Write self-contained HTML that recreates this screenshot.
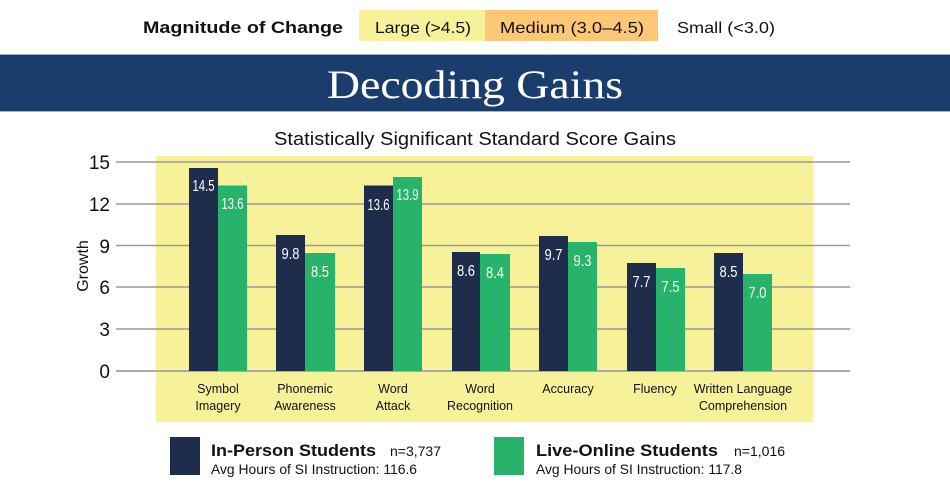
<!DOCTYPE html>
<html><head><meta charset="utf-8"><style>
body{margin:0;background:#fff;}
svg{display:block;font-family:"Liberation Sans",sans-serif;}
</style></head><body>
<svg width="950" height="488" viewBox="0 0 950 488" xmlns="http://www.w3.org/2000/svg">
<rect width="950" height="488" fill="#fff"/>
<text x="143" y="33" font-size="17" font-weight="bold" fill="#111" textLength="200" lengthAdjust="spacingAndGlyphs">Magnitude of Change</text>
<rect x="359" y="10" width="126" height="31" fill="#f7f29a"/>
<rect x="485" y="10" width="173" height="31" fill="#fec776"/>
<text x="375" y="33" font-size="16" fill="#111" textLength="96" lengthAdjust="spacingAndGlyphs">Large (&gt;4.5)</text>
<text x="500" y="33" font-size="16" fill="#111" textLength="144" lengthAdjust="spacingAndGlyphs">Medium (3.0–4.5)</text>
<text x="677" y="33" font-size="16" fill="#111" textLength="98" lengthAdjust="spacingAndGlyphs">Small (&lt;3.0)</text>
<rect x="0" y="54" width="950" height="58" fill="#1b3d6e"/>
<line x1="0" y1="54.5" x2="950" y2="54.5" stroke="#9fb3cc"/>
<line x1="0" y1="111.5" x2="950" y2="111.5" stroke="#9fb3cc"/>
<text x="475" y="98" font-size="40" fill="#fff" text-anchor="middle" font-family="Liberation Serif,serif" textLength="296" lengthAdjust="spacingAndGlyphs">Decoding Gains</text>
<text x="475" y="145" font-size="18" fill="#111" text-anchor="middle" textLength="402" lengthAdjust="spacingAndGlyphs">Statistically Significant Standard Score Gains</text>
<rect x="156" y="156" width="657" height="266" fill="#f7f29a"/>
<g stroke="#999" stroke-width="1.5">
<line x1="116" y1="162" x2="850" y2="162"/>
<line x1="116" y1="204" x2="850" y2="204"/>
<line x1="116" y1="245.5" x2="850" y2="245.5"/>
<line x1="116" y1="287" x2="850" y2="287"/>
<line x1="116" y1="329" x2="850" y2="329"/>
<line x1="116" y1="371" x2="850" y2="371" stroke="#aaa" stroke-width="2"/>
</g>
<g font-size="19" fill="#111" text-anchor="end">
<text x="110" y="169">15</text>
<text x="110" y="211">12</text>
<text x="110" y="253">9</text>
<text x="110" y="294">6</text>
<text x="110" y="336">3</text>
<text x="110" y="378">0</text>
</g>
<text transform="translate(88,266) rotate(-90)" font-size="16" fill="#111" text-anchor="middle">Growth</text>
<g font-size="12.5" fill="#111" text-anchor="middle">
<text x="218" y="393">Symbol</text><text x="218" y="410">Imagery</text>
<text x="305" y="393">Phonemic</text><text x="305" y="410">Awareness</text>
<text x="393" y="393">Word</text><text x="393" y="410">Attack</text>
<text x="480" y="393">Word</text><text x="480" y="410">Recognition</text>
<text x="568" y="393">Accuracy</text>
<text x="655" y="393">Fluency</text>
<text x="743" y="393">Written Language</text><text x="743" y="410">Comprehension</text>
</g>
<rect x="170" y="437" width="30" height="38" fill="#1f2d4d"/>
<rect x="494" y="437" width="30" height="38" fill="#27b46a"/>
<text x="211" y="456" font-size="17" font-weight="bold" fill="#111" textLength="165" lengthAdjust="spacingAndGlyphs">In-Person Students</text>
<text x="390" y="456" font-size="14" fill="#111">n=3,737</text>
<text x="211" y="474" font-size="14" fill="#111" textLength="206" lengthAdjust="spacingAndGlyphs">Avg Hours of SI Instruction: 116.6</text>
<text x="536" y="456" font-size="17" font-weight="bold" fill="#111" textLength="182" lengthAdjust="spacingAndGlyphs">Live-Online Students</text>
<text x="734" y="456" font-size="14" fill="#111">n=1,016</text>
<text x="536" y="474" font-size="14" fill="#111" textLength="206" lengthAdjust="spacingAndGlyphs">Avg Hours of SI Instruction: 117.8</text>
<g font-size="16" fill="#fff" text-anchor="middle">
<rect x="189" y="168" width="29" height="203" fill="#1f2d4d"/><text x="203.5" y="191" textLength="22" lengthAdjust="spacingAndGlyphs">14.5</text>
<rect x="218" y="185.5" width="29" height="185.5" fill="#27b46a"/><text x="232.5" y="209" textLength="22" lengthAdjust="spacingAndGlyphs">13.6</text>
<rect x="276" y="235" width="29" height="136" fill="#1f2d4d"/><text x="290.5" y="259" textLength="18" lengthAdjust="spacingAndGlyphs">9.8</text>
<rect x="305" y="253" width="30" height="118" fill="#27b46a"/><text x="320" y="277" textLength="18" lengthAdjust="spacingAndGlyphs">8.5</text>
<rect x="364" y="185.5" width="29" height="185.5" fill="#1f2d4d"/><text x="378.5" y="210" textLength="22" lengthAdjust="spacingAndGlyphs">13.6</text>
<rect x="393" y="177" width="29" height="194" fill="#27b46a"/><text x="407.5" y="200" textLength="22" lengthAdjust="spacingAndGlyphs">13.9</text>
<rect x="452" y="252" width="28" height="119" fill="#1f2d4d"/><text x="466" y="276" textLength="18" lengthAdjust="spacingAndGlyphs">8.6</text>
<rect x="480" y="254" width="30" height="117" fill="#27b46a"/><text x="495" y="278" textLength="18" lengthAdjust="spacingAndGlyphs">8.4</text>
<rect x="539" y="236" width="29" height="135" fill="#1f2d4d"/><text x="553.5" y="260" textLength="18" lengthAdjust="spacingAndGlyphs">9.7</text>
<rect x="568" y="242" width="29" height="129" fill="#27b46a"/><text x="582.5" y="266" textLength="18" lengthAdjust="spacingAndGlyphs">9.3</text>
<rect x="627" y="263" width="29" height="108" fill="#1f2d4d"/><text x="641.5" y="287" textLength="18" lengthAdjust="spacingAndGlyphs">7.7</text>
<rect x="656" y="268" width="29" height="103" fill="#27b46a"/><text x="670.5" y="292" textLength="18" lengthAdjust="spacingAndGlyphs">7.5</text>
<rect x="714" y="253" width="29" height="118" fill="#1f2d4d"/><text x="728.5" y="277" textLength="18" lengthAdjust="spacingAndGlyphs">8.5</text>
<rect x="743" y="274" width="29" height="97" fill="#27b46a"/><text x="757.5" y="298" textLength="18" lengthAdjust="spacingAndGlyphs">7.0</text>
</g>
</svg>
</body></html>
